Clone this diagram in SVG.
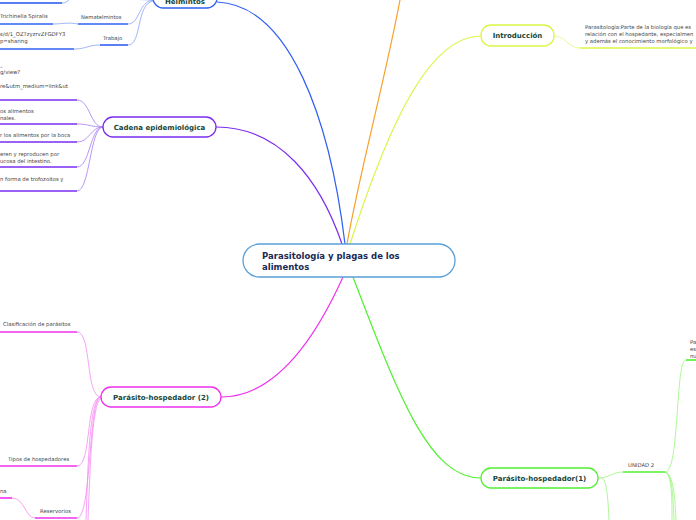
<svg xmlns="http://www.w3.org/2000/svg" width="696" height="520" viewBox="0 0 696 520">
<style>
.nl{font-family:"DejaVu Sans",Verdana,sans-serif;font-size:7px;font-weight:bold;fill:#17463a;text-anchor:middle}
.t{font-family:"DejaVu Sans",Verdana,sans-serif;font-size:5.3px;fill:#444}
.node{fill:#fff;stroke-width:1.3}
.c{fill:none;stroke-width:1.2}
.s{fill:none;stroke-width:0.8}
.u{fill:none;stroke-width:1.6}
</style>
<rect width="696" height="520" fill="#fff"/>
<g id="connectors">
  <path class="c" stroke="#3060f2" d="M217,2 C290,5 330,120 345,244"/>
  <path class="c" stroke="#f7a12a" d="M400,0 C385,80 360,170 347,244"/>
  <path class="c" stroke="#dcf545" d="M350,244 C390,120 430,36 481,36"/>
  <path class="c" stroke="#7a2cf0" d="M216,127 C280,127 320,180 342,244"/>
  <path class="c" stroke="#f030ee" d="M343,277 C310,350 270,397 221,397"/>
  <path class="c" stroke="#50f030" d="M353,277 C400,400 430,478 481,478"/>
  <!-- Helmintos children -->
  <path class="s" stroke="#8aa2f8" d="M153,0 C140,0 130,-2 68,-1 M0,3 H62 C66,3 68,1 70,-1"/>
  <path class="u" stroke="#3060f2" d="M0,3 H62"/>
  <path class="s" stroke="#8aa2f8" d="M153,0 C138,2 140,24 128,24"/>
  <path class="u" stroke="#3060f2" d="M78,24 H128"/>
  <path class="s" stroke="#8aa2f8" d="M53,24 C62,24 68,22 78,24"/>
  <path class="u" stroke="#3060f2" d="M0,24 H53"/>
  <path class="s" stroke="#8aa2f8" d="M153,1 C136,4 142,45 128,45"/>
  <path class="u" stroke="#3060f2" d="M100,45 H128"/>
  <path class="s" stroke="#8aa2f8" d="M74,49 C86,49 88,45 100,45"/>
  <path class="u" stroke="#3060f2" d="M0,49 H74"/>
  <!-- Cadena children -->
  <g stroke="#a47cf4">
    <path class="s" d="M103,127 C90,127 90,100 77,100"/>
    <path class="s" d="M103,127 C90,127 90,124 77,124"/>
    <path class="s" d="M103,127 C90,127 90,142 77,142"/>
    <path class="s" d="M103,127 C90,127 90,167 77,167"/>
    <path class="s" d="M103,127 C90,127 90,191 77,191"/>
  </g>
  <g stroke="#7a2cf0">
    <path class="u" d="M0,100 H77"/>
    <path class="u" d="M0,124 H77"/>
    <path class="u" d="M0,142 H77"/>
    <path class="u" d="M0,167 H77"/>
    <path class="u" d="M0,191 H77"/>
  </g>
  <!-- Parásito-hospedador (2) children -->
  <g stroke="#f58af2">
    <path class="s" d="M101,397 C85,397 92,332 77,332"/>
    <path class="s" d="M101,397 C85,397 92,466 77,466"/>
    <path class="s" d="M101,397 C88,397 92,518 77,518"/>
    <path class="s" d="M101,397 C90,397 88,460 86,520"/>
    <path class="s" d="M102,398 C92,398 90,470 88,520"/>
    <path class="s" d="M35,518 C25,518 25,498 12,498"/>
  </g>
  <g stroke="#f030ee">
    <path class="u" d="M0,332 H77"/>
    <path class="u" d="M0,466 H77"/>
    <path class="u" d="M35,518 H77"/>
    <path class="u" d="M0,498 H12"/>
  </g>
  <!-- Parásito-hospedador(1) children -->
  <g stroke="#9af57e">
    <path class="s" d="M598,478 C610,478 612,472 623,472"/>
    <path class="s" d="M601,478 C607,478 608,500 609,520"/>
    <path class="s" d="M665,472 C680,472 675,360 686,360"/>
    <path class="s" d="M665,472 C672,474 672,500 672,520"/>
    <path class="s" d="M665,472 C673,474 673,500 674,520"/>
    <path class="s" d="M665,472 C674,474 675,500 676,520"/>
  </g>
  <g stroke="#50f030">
    <path class="u" d="M623,472 H665"/>
    <path class="u" d="M686,360 H696"/>
  </g>
  <!-- Introducción child -->
  <path class="s" stroke="#e3f78a" d="M554,36 C566,36 568,48 580,48"/>
  <path class="u" stroke="#dcf545" d="M580,48 H696"/>
</g>
<g id="center">
  <rect x="243" y="244" width="212" height="33" rx="16.5" fill="#fff" stroke="#5aa0d8" stroke-width="1.3"/>
  <text font-family="DejaVu Sans,Verdana,sans-serif" font-size="8.5" font-weight="bold" fill="#1b2a55"><tspan x="262" y="259">Parasitología y plagas de los</tspan><tspan x="262" y="270">alimentos</tspan></text>
</g>
<g id="helmintos">
  <rect class="node" x="153" y="-12" width="64" height="20" rx="10" stroke="#3060f2"/>
  <text class="nl" x="185" y="4">Helmintos</text>
</g>
<g id="introduccion">
  <rect class="node" x="481" y="25" width="73" height="21" rx="10" stroke="#dcf545"/>
  <text class="nl" x="517.5" y="38">Introducción</text>
</g>
<g id="cadena">
  <rect class="node" x="103" y="117" width="113" height="20" rx="10" stroke="#7a2cf0"/>
  <text class="nl" x="159.5" y="130">Cadena epidemiológica</text>
</g>
<g id="ph2">
  <rect class="node" x="101" y="387" width="120" height="20" rx="10" stroke="#f030ee"/>
  <text class="nl" x="161" y="400">Parásito-hospedador (2)</text>
</g>
<g id="ph1">
  <rect class="node" x="481" y="468" width="117" height="20" rx="10" stroke="#50f030"/>
  <text class="nl" x="539.5" y="481">Parásito-hospedador(1)</text>
</g>
<g id="labels">
  <text class="t" x="0" y="18">Trichinella Spiralis</text>
  <text class="t" x="81" y="19">Nematelmintos</text>
  <text class="t" x="0" y="36">s/d/1_OZTzyzrvZFGDFY3</text>
  <text class="t" x="0" y="43">p=sharing</text>
  <text class="t" x="103" y="40">Trabajo</text>
  <text class="t" x="0" y="66">_</text>
  <text class="t" x="0" y="74">g/view?</text>
  <text class="t" x="0" y="88">re&amp;utm_medium=link&amp;ut</text>
  <text class="t" x="0" y="113">os alimentos</text>
  <text class="t" x="0" y="120">nales.</text>
  <text class="t" x="0" y="137">r los alimentos por la boca</text>
  <text class="t" x="0" y="156">eren y reproducen por</text>
  <text class="t" x="0" y="163">ucosa del intestino.</text>
  <text class="t" x="0" y="181">n forma de trofozoitos y</text>
  <text class="t" x="3" y="326">Clasificación de parásitos</text>
  <text class="t" x="8" y="461">Tipos de hospedadores</text>
  <text class="t" x="0" y="493">na</text>
  <text class="t" x="40" y="513">Reservorios</text>
  <text class="t" x="628" y="467">UNIDAD 2</text>
  <text class="t" x="690" y="344">Pa</text>
  <text class="t" x="690" y="351">es</text>
  <text class="t" x="690" y="358">nu</text>
  <text class="t" x="585" y="29">Parasitología:Parte de la biología que es</text>
  <text class="t" x="585" y="36">relación con el hospedante, especialmen</text>
  <text class="t" x="585" y="43">y además el conocimiento morfológico y</text>
</g>
</svg>
